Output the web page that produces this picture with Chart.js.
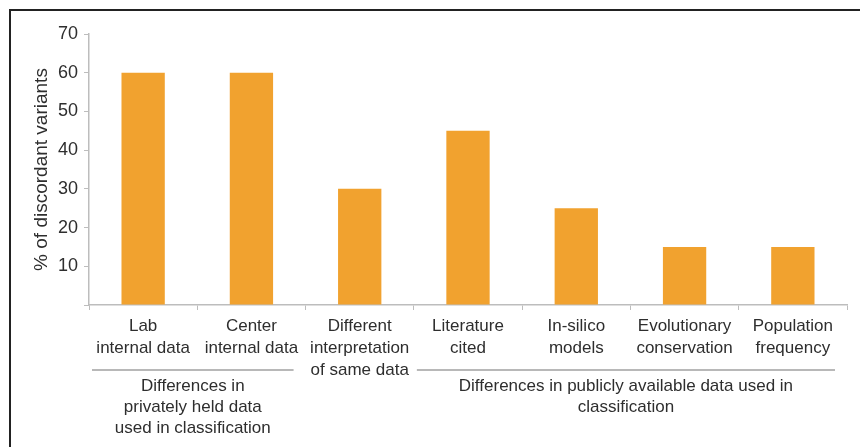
<!DOCTYPE html>
<html>
<head>
<meta charset="utf-8">
<script src="https://cdn.jsdelivr.net/npm/chart.js@4"></script>
<style>
  html, body { margin: 0; padding: 0; background: #fff; }
  #wrap { position: relative; width: 860px; height: 447px; overflow: hidden; }
  #frame { position: absolute; left: 9px; top: 9px; width: 860px; height: 460px;
           border-top: 2px solid #222; border-left: 2px solid #222; box-sizing: border-box; }
  canvas { position: absolute; left: 0; top: 0; }
</style>
</head>
<body>
<div id="wrap">
  <div id="frame"></div>
  <canvas id="c" width="860" height="447"></canvas>
</div>
<script>
const categories = [
  ["Lab", "internal data"],
  ["Center", "internal data"],
  ["Different", "interpretation", "of same data"],
  ["Literature", "cited"],
  ["In-silico", "models"],
  ["Evolutionary", "conservation"],
  ["Population", "frequency"]
];
const discordantPct = [60, 60, 30, 45, 25, 15, 15];
const yTitle = "% of discordant variants";
const groupLabels = [
  ["Differences in", "privately held data", "used in classification"],
  ["Differences in publicly available data used in", "classification"]
];
const groupFirstIndex = [0, 3];
const groupLastIndex = [1, 6];

const FONT = '"Liberation Sans", Arial, Helvetica, sans-serif';
const TEXT = '#2e2e2e';
const AXIS = '#bdbdbd';

const groupPlugin = {
  id: 'groups',
  afterDraw(chart) {
    const x = chart.scales.x;
    const ctx = chart.ctx;
    const half = (x.getPixelForValue(1) - x.getPixelForValue(0)) / 2;
    const lineY = 370;
    ctx.save();
    for (let g = 0; g < groupLabels.length; g++) {
      const left = x.getPixelForValue(groupFirstIndex[g]) - half + 3;
      const right = x.getPixelForValue(groupLastIndex[g]) + half - 12;
      ctx.strokeStyle = '#a0a0a0';
      ctx.lineWidth = 1.6;
      ctx.beginPath();
      ctx.moveTo(left, lineY);
      ctx.lineTo(right, lineY);
      ctx.stroke();
      ctx.fillStyle = TEXT;
      ctx.font = '17px ' + FONT;
      ctx.textAlign = 'center';
      ctx.textBaseline = 'middle';
      const cx = (left + right) / 2;
      groupLabels[g].forEach((line, i) => {
        ctx.fillText(line, cx, 386 + i * 21);
      });
    }
    ctx.restore();
  }
};

new Chart(document.getElementById('c'), {
  type: 'bar',
  data: {
    labels: categories,
    datasets: [{
      data: discordantPct,
      backgroundColor: '#F1A22F',
      borderWidth: 0,
      barPercentage: 0.4,
      categoryPercentage: 1.0
    }]
  },
  options: {
    responsive: false,
    animation: false,
    devicePixelRatio: 1,
    layout: { padding: { top: 34, right: 13, left: 0, bottom: 0 } },
    plugins: { legend: { display: false }, tooltip: { enabled: false } },
    scales: {
      x: {
        offset: true,
        grid: { display: true, drawOnChartArea: false, drawTicks: true, tickLength: 5, color: AXIS, offset: true },
        border: { display: true, color: AXIS, width: 1.5 },
        ticks: { color: TEXT, font: { family: FONT, size: 17, lineHeight: 1.27 }, padding: 6, maxRotation: 0, autoSkip: false },
        afterFit(scale) { scale.height = 142; }
      },
      y: {
        min: 0, max: 70,
        grid: { display: true, drawOnChartArea: false, drawTicks: true, tickLength: 5, color: AXIS },
        border: { display: true, color: AXIS, width: 1.5 },
        ticks: {
          stepSize: 10, color: TEXT, padding: 6,
          font: { family: FONT, size: 18 },
          callback: (v) => v === 0 ? '' : v
        },
        title: { display: true, text: yTitle, color: TEXT, font: { family: FONT, size: 19 }, padding: { top: 30, bottom: 0 } },
        afterFit(scale) { scale.width = 89; }
      }
    }
  },
  plugins: [groupPlugin]
});
</script>
</body>
</html>
